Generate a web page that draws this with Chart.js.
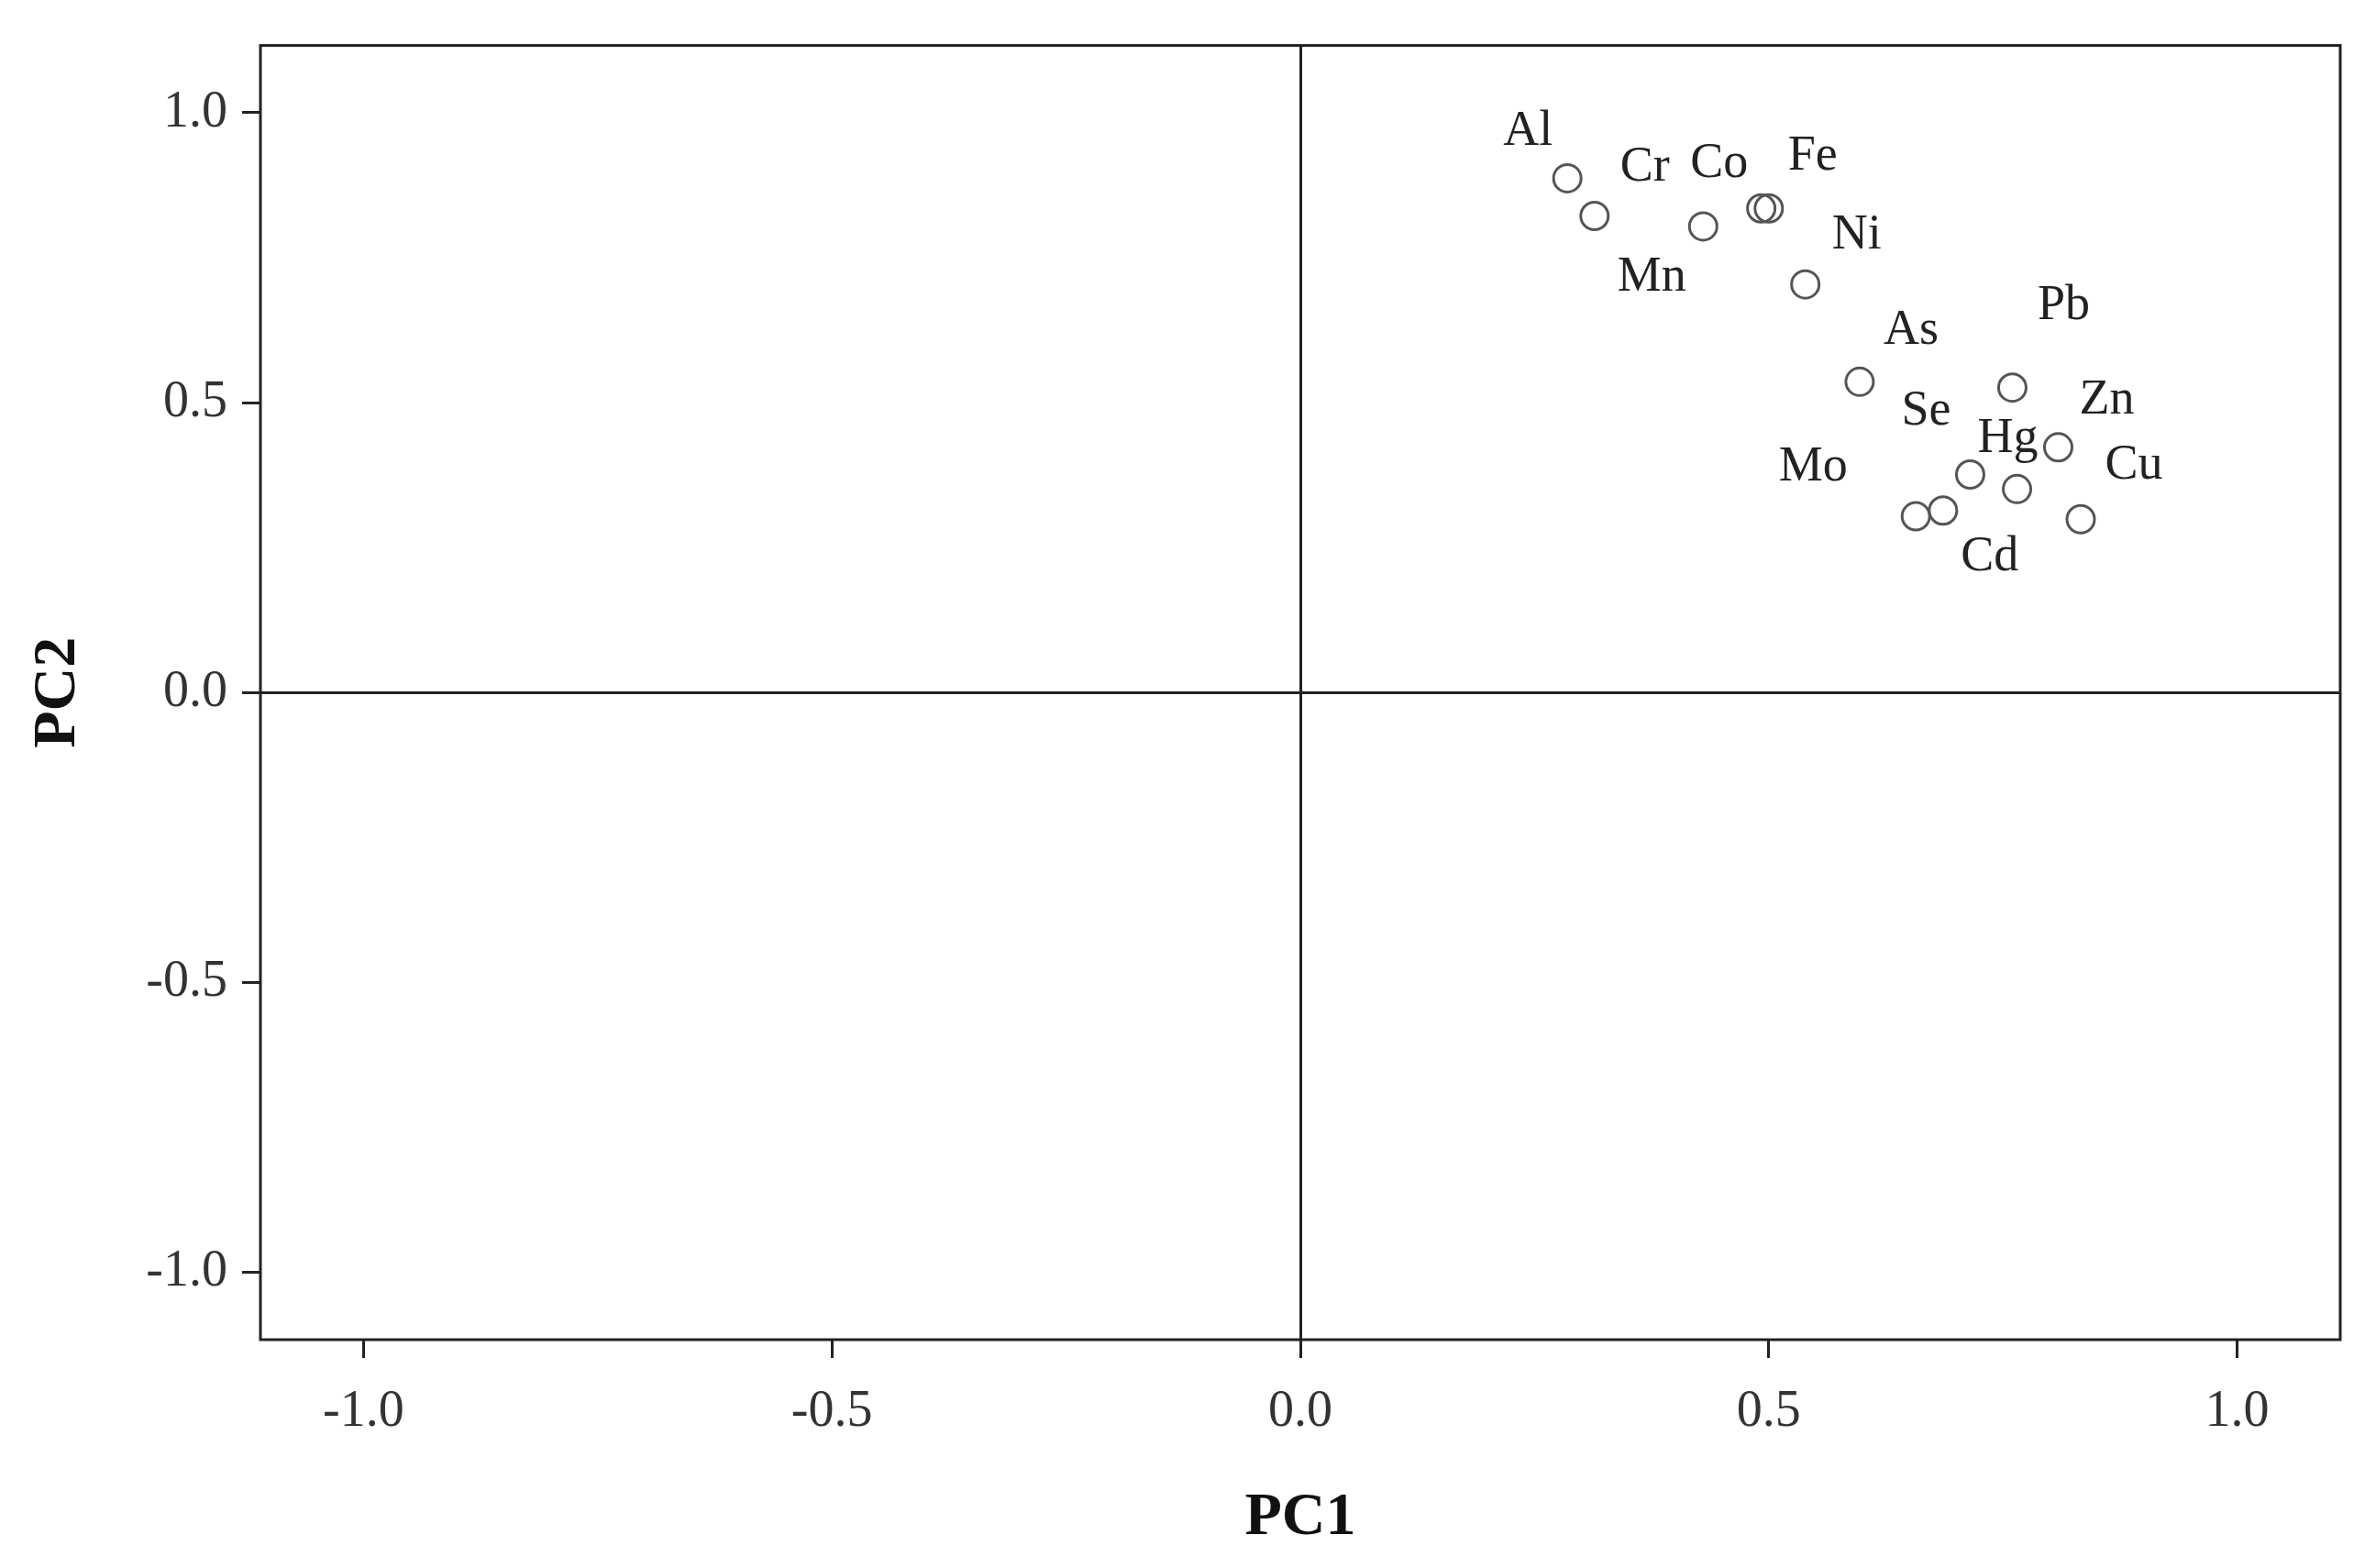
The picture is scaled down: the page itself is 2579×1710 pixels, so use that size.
<!DOCTYPE html>
<html>
<head>
<meta charset="utf-8">
<script src="https://cdn.jsdelivr.net/npm/chart.js@4"></script>
<style>
  body { margin: 0; background: #fff; }
  canvas { display: block; }
</style>
</head>
<body>
<canvas id="pcaChart" width="2579" height="1710"></canvas>
<script>
// Loadings (PC1, PC2)
const elements = ['Al', 'Cr', 'Mn', 'Co', 'Fe', 'Ni', 'As', 'Pb', 'Zn', 'Hg', 'Cu', 'Se', 'Cd', 'Mo'];
const pc1 = [0.285, 0.314, 0.430, 0.492, 0.500, 0.539, 0.597, 0.760, 0.809, 0.765, 0.833, 0.715, 0.686, 0.657];
const pc2 = [0.887, 0.822, 0.804, 0.835, 0.835, 0.704, 0.536, 0.526, 0.423, 0.351, 0.299, 0.376, 0.314, 0.304];
const tickValues = [-1.0, -0.5, 0.0, 0.5, 1.0];

// label offsets from each point, in pixels
const labelOffsets = [
    [-43, -51], [55, -53], [-56, 56], [-46, -48], [48, -56], [56, -53], [56, -56],
    [56, -89], [53, -51], [-10, -55], [58, -58], [-48, -69], [51, 51], [-112, -53]
];

const points = elements.map((el, i) => ({ x: pc1[i], y: pc2[i] }));

// draws the full frame and the element names
const framePlugin = {
    id: 'frame',
    afterDatasetsDraw(chart) {
        const ctx = chart.ctx;
        const a = chart.chartArea;
        ctx.save();
        ctx.strokeStyle = '#222';
        ctx.lineWidth = 3;
        ctx.strokeRect(a.left, a.top, a.right - a.left, a.bottom - a.top);
        ctx.fillStyle = '#222';
        ctx.font = '54px "Liberation Serif", "DejaVu Serif", serif';
        ctx.textAlign = 'center';
        ctx.textBaseline = 'middle';
        const meta = chart.getDatasetMeta(0);
        meta.data.forEach((pt, i) => {
            ctx.fillText(elements[i], pt.x + labelOffsets[i][0], pt.y + labelOffsets[i][1]);
        });
        ctx.restore();
    }
};

const zeroLine = c => (c.tick && c.tick.value === 0) ? '#222' : 'rgba(0,0,0,0)';

new Chart(document.getElementById('pcaChart'), {
    type: 'scatter',
    data: {
        datasets: [{
            data: points,
            pointRadius: 15,
            pointBorderWidth: 3,
            pointBorderColor: '#555',
            pointBackgroundColor: 'rgba(255,255,255,0)'
        }]
    },
    options: {
        responsive: false,
        devicePixelRatio: 1,
        animation: false,
        layout: { padding: { top: 33, right: 27, left: 20, bottom: 10 } },
        plugins: { legend: { display: false }, tooltip: { enabled: false } },
        scales: {
            x: {
                min: -1.11, max: 1.11,
                afterBuildTicks: s => { s.ticks = tickValues.map(v => ({ value: v })); },
                afterFit: s => { s.height = 239; },
                border: { display: false },
                grid: { color: zeroLine, lineWidth: 3, tickLength: 20, tickColor: '#222', tickWidth: 3 },
                ticks: {
                    callback: v => v.toFixed(1), color: '#333', padding: 26,
                    font: { family: '"Liberation Serif", "DejaVu Serif", serif', size: 56 }
                },
                title: {
                    display: true, text: 'PC1', color: '#111', padding: { top: 36 },
                    font: { family: '"Liberation Serif", "DejaVu Serif", serif', size: 66, weight: 'bold' }
                }
            },
            y: {
                min: -1.116, max: 1.116,
                afterBuildTicks: s => { s.ticks = tickValues.map(v => ({ value: v })); },
                afterFit: s => { s.width = 264; },
                border: { display: false },
                grid: { color: zeroLine, lineWidth: 3, tickLength: 20, tickColor: '#222', tickWidth: 3 },
                ticks: {
                    callback: v => v.toFixed(1), color: '#333', padding: 16,
                    font: { family: '"Liberation Serif", "DejaVu Serif", serif', size: 56 }
                },
                title: {
                    display: true, text: 'PC2', color: '#111', padding: { bottom: 10 },
                    font: { family: '"Liberation Serif", "DejaVu Serif", serif', size: 66, weight: 'bold' }
                }
            }
        }
    },
    plugins: [framePlugin]
});
</script>
</body>
</html>
